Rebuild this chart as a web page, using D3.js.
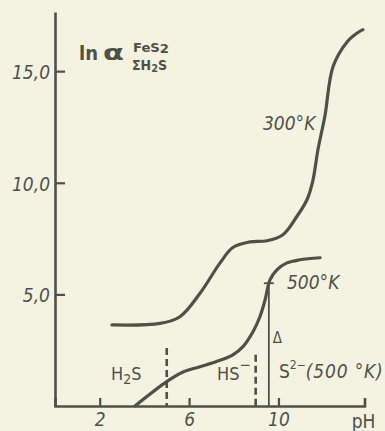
<!DOCTYPE html>
<html>
<head>
<meta charset="utf-8">
<script src="https://cdn.jsdelivr.net/npm/d3@7/dist/d3.min.js"></script>
<style>
  html, body { margin: 0; padding: 0; background: #f4f2e1; }
  svg { display: block; }
  text { font-family: "DejaVu Sans Condensed", "DejaVu Sans", sans-serif; fill: #4f5149; }
</style>
</head>
<body>
<svg id="chart" width="385" height="431"></svg>
<script>
// pH vs ln alpha, two temperatures
const pH300 = [2.55, 4.70, 5.59, 6.49, 7.38, 7.96, 8.72, 9.49, 10.2, 10.83, 11.28, 11.54, 11.77, 12.08, 12.44, 13.06, 13.51, 13.78];
const ln300 = [3.63, 3.70, 4.00, 5.05, 6.40, 7.10, 7.35, 7.40, 7.67, 8.50, 9.25, 10.1, 11.5, 13.0, 15.2, 16.3, 16.7, 16.86];

const pH500 = [3.58, 5.00, 5.73, 6.49, 7.23, 7.96, 8.41, 8.86, 9.17, 9.40, 9.62, 9.93, 10.38, 10.96, 11.86];
const ln500 = [0.00, 1.09, 1.52, 1.76, 1.99, 2.29, 2.66, 3.33, 4.00, 4.75, 5.65, 6.10, 6.41, 6.55, 6.64];

// species boundaries: [pH, top of marker]
const dashedMarks = [[5.0, 2.6], [8.98, 2.3]];
const deltaMark = [9.57, 5.5];

const xTicks = [2, 6, 10];
const yTicks = [5, 10, 15];

const ink = "#4f5149";
const svg = d3.select("#chart");

const x = d3.scaleLinear().domain([0, 13.85]).range([55, 364.5]);
const y = d3.scaleLinear().domain([0, 17.65]).range([406, 12]);

// axes
const fmt = d => d3.format(".1f")(d).replace(".", ",");
const yAxis = svg.append("g").attr("transform", `translate(${x(0)},0)`)
  .call(d3.axisLeft(y).tickValues(yTicks).tickSize(-10).tickSizeOuter(0).tickPadding(5).tickFormat(fmt));
yAxis.selectAll("text").attr("font-size", 19).attr("font-style", "italic").attr("dy", "0.4em");

const xAxis = svg.append("g").attr("transform", `translate(0,${y(0)})`)
  .call(d3.axisBottom(x).tickValues(xTicks).tickSize(-8).tickSizeOuter(-8).tickPadding(7).tickFormat(d3.format("d")));
xAxis.selectAll("text").attr("font-size", 19).attr("font-style", "italic");

[yAxis, xAxis].forEach(g => {
  g.select(".domain").attr("stroke", ink).attr("stroke-width", 2.6);
  g.selectAll(".tick line").attr("stroke", ink).attr("stroke-width", 2.2);
  g.selectAll("text").attr("fill", ink).attr("font-family", "'DejaVu Sans Condensed', 'DejaVu Sans', sans-serif");
});

svg.append("text").attr("x", x(13.85) - 1).attr("y", 428).attr("text-anchor", "middle")
  .attr("font-size", 19).text("pH");

// curves
const line = d3.line().x(d => x(d[0])).y(d => y(d[1])).curve(d3.curveCatmullRom.alpha(0.5));
svg.append("path").datum(d3.zip(pH300, ln300)).attr("d", line)
  .attr("fill", "none").attr("stroke", ink).attr("stroke-width", 3.2).attr("stroke-linecap", "round");
svg.append("path").datum(d3.zip(pH500, ln500)).attr("d", line)
  .attr("fill", "none").attr("stroke", ink).attr("stroke-width", 3.2).attr("stroke-linecap", "round");

// species boundaries
svg.selectAll(".bound").data(dashedMarks).enter().append("line")
  .attr("x1", d => x(d[0])).attr("x2", d => x(d[0]))
  .attr("y1", d => y(d[1])).attr("y2", y(0))
  .attr("stroke", ink).attr("stroke-width", 2.6).attr("stroke-dasharray", "7,4");

// delta marker
svg.append("line").attr("x1", x(deltaMark[0])).attr("x2", x(deltaMark[0]))
  .attr("y1", y(deltaMark[1])).attr("y2", y(0)).attr("stroke", ink).attr("stroke-width", 1.8);
svg.append("line").attr("x1", x(deltaMark[0]) - 5).attr("x2", x(deltaMark[0]) + 5)
  .attr("y1", y(deltaMark[1])).attr("y2", y(deltaMark[1])).attr("stroke", ink).attr("stroke-width", 1.8);
svg.append("text").attr("x", x(deltaMark[0]) + 4).attr("y", 343).attr("font-size", 15).text("Δ");

// labels
svg.append("text").attr("x", 263).attr("y", 130).attr("font-size", 19).attr("font-style", "italic").text("300°K");
svg.append("text").attr("x", 287).attr("y", 289).attr("font-size", 19).attr("font-style", "italic").text("500°K");

const h2s = svg.append("text").attr("x", 111).attr("y", 380).attr("font-size", 18);
h2s.append("tspan").text("H");
h2s.append("tspan").attr("font-size", 14).attr("dy", 4).text("2");
h2s.append("tspan").attr("dy", -4).text("S");

const hs = svg.append("text").attr("x", 217).attr("y", 380).attr("font-size", 18);
hs.append("tspan").text("HS");
hs.append("tspan").attr("dy", -10).attr("font-size", 15).text("−");

const s2 = svg.append("text").attr("x", 279).attr("y", 378).attr("font-size", 19);
s2.append("tspan").text("S");
s2.append("tspan").attr("dy", -9).attr("font-size", 12).text("2−");
s2.append("tspan").attr("dy", 9).attr("font-style", "italic").attr("textLength", 77).text("(500 °K)");

// title: ln alpha with FeS2 over ΣH2S
svg.append("text").attr("x", 79).attr("y", 60).attr("font-size", 20).attr("font-weight", "bold").text("ln");
svg.append("text").attr("x", 103).attr("y", 60).attr("font-size", 22).attr("font-weight", "bold")
  .attr("textLength", 21).attr("lengthAdjust", "spacingAndGlyphs").text("α");
const sup = svg.append("text").attr("x", 133).attr("y", 52).attr("font-size", 13).attr("font-weight", "bold")
  .attr("textLength", 36).attr("lengthAdjust", "spacingAndGlyphs");
sup.append("tspan").text("FeS");
sup.append("tspan").attr("dy", 1).text("2");
const sub = svg.append("text").attr("x", 132).attr("y", 70).attr("font-size", 14).attr("font-weight", "bold");
sub.append("tspan").text("ΣH");
sub.append("tspan").attr("dy", 2).attr("font-size", 11).text("2");
sub.append("tspan").attr("dy", -2).text("S");
</script>
</body>
</html>
